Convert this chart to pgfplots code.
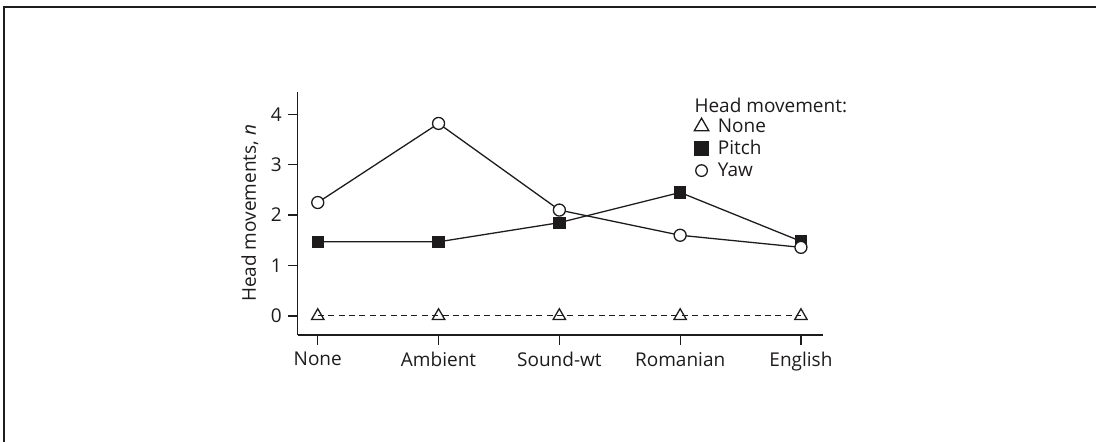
\documentclass[border=0pt]{standalone}
\usepackage{fontspec}
\setmainfont{Open Sans}
\usepackage{pgfplots}
\pgfplotsset{compat=1.18}

\definecolor{ink}{RGB}{30,27,28}
\newcommand{\chartfont}{\fontsize{19}{23}\selectfont}

\begin{document}
\chartfont
\begin{tikzpicture}
  % page = 1096 x 442, one point per pixel
  \useasboundingbox (0,0) rectangle (1096pt,-442pt);
  \draw[ink, line width=1.3pt] (4pt,-442pt) -- (4pt,-7pt) -- (1096pt,-7pt);

  \begin{axis}[
      at={(297.7pt,-335pt)}, anchor=south west,
      scale only axis, width=525pt, height=243.3pt,
      xmin=-0.166, xmax=4.18,
      ymin=-0.38, ymax=4.45,
      axis x line*=bottom, axis y line*=left,
      axis line style={ink, line width=1.3pt},
      tick style={ink, line width=1.3pt},
      tick align=outside,
      major tick length=9.5pt,
      xtick={0,1,2,3,4},
      xticklabels={None, Ambient, Sound-wt, Romanian, English},
      ytick={0,1,2,3,4},
      /pgf/number format/assume math mode=true,
      ticklabel style={font=\chartfont, text=ink},
      xticklabel style={yshift=-1.2pt},
      ylabel={Head movements, \textit{n}},
      every axis y label/.style={at={(axis description cs:-0.0909,0.5)},
        rotate=90, anchor=center, font=\chartfont, text=ink},
      legend style={draw=none, fill=none,
        at={(axis description cs:0.755,0.892)}, anchor=north west,
        inner sep=0pt, row sep=7pt, column sep=9pt,
        font=\chartfont, text=ink,
        nodes={text height=13pt, text depth=2pt, inner sep=0pt}},
      legend cell align=left,
      legend image code/.code={\draw[#1] plot coordinates {(0pt,0pt)};},
      clip=false,
    ]

    \addlegendimage{ink, line width=1.3pt, mark=triangle, mark size=8.4pt, mark options={fill=white, solid}}
    \addlegendimage{ink, line width=1.3pt, mark=square*, mark size=7pt, mark options={fill=ink, solid}}
    \addlegendimage{ink, line width=1.3pt, mark=*, mark size=5.8pt, mark options={fill=white, solid}}
    \legend{None, Pitch, Yaw}

    % None
    \addplot[ink, line width=1.2pt, dash pattern=on 6pt off 4.4pt,
      mark=triangle, mark size=7.1pt, mark options={fill=white, solid, line width=1.3pt}]
      coordinates {(0,0) (1,0) (2,0) (3,0) (4,0)};
    % Pitch
    \addplot[ink, line width=1.3pt,
      mark=square*, mark size=5.5pt, mark options={fill=ink}]
      coordinates {(0,1.47) (1,1.47) (2,1.85) (3,2.45) (4,1.48)};
    % Yaw
    \addplot[ink, line width=1.3pt,
      mark=*, mark size=6pt, mark options={fill=white}]
      coordinates {(0,2.25) (1,3.82) (2,2.10) (3,1.60) (4,1.36)};

    \node[anchor=base west, inner sep=0pt, text=ink]
      at (axis description cs:0.7555,0.9165) {Head movement:};
  \end{axis}
\end{tikzpicture}
\end{document}
